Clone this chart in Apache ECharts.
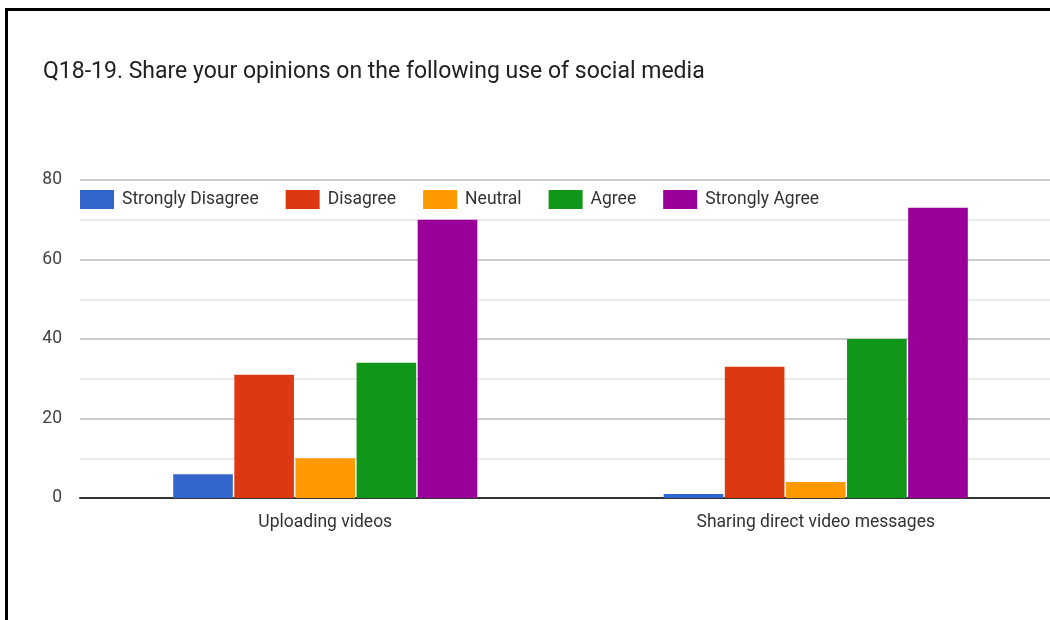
<!DOCTYPE html>
<html>
<head>
<meta charset="utf-8">
<script src="https://cdn.jsdelivr.net/npm/echarts@6/dist/echarts.min.js"></script>
<style>
  html, body { margin: 0; padding: 0; background: #fff; overflow: hidden; width: 1050px; height: 620px; }
  #frame { position: absolute; left: 5px; top: 8px; width: 1100px; height: 700px; border: 3px solid #000; box-sizing: border-box; }
  #chart { position: absolute; left: 0; top: 0; width: 1080px; height: 620px; }
</style>
</head>
<body>
<div id="frame"></div>
<div id="chart"></div>
<script>
const titleText = 'Q18-19. Share your opinions on the following use of social media';
const categories = ['Uploading videos', 'Sharing direct video messages'];
const seriesNames = ['Strongly Disagree', 'Disagree', 'Neutral', 'Agree', 'Strongly Agree'];
const stronglyDisagree = [6, 1];
const disagree = [31, 33];
const neutral = [10, 4];
const agree = [34, 40];
const stronglyAgree = [70, 73];
const seriesValues = [stronglyDisagree, disagree, neutral, agree, stronglyAgree];
const colors = ['#3366cc', '#dc3912', '#ff9900', '#109618', '#990099'];
const yTicks = [0, 20, 40, 60, 80];

const chart = echarts.init(document.getElementById('chart'), null, { renderer: 'canvas' });
const FONT = 'Roboto';
chart.setOption({
  animation: false,
  color: colors,
  title: {
    text: titleText,
    left: 38,
    top: 56,
    textStyle: { fontFamily: FONT, fontSize: 23, fontWeight: 'normal', color: '#212121' }
  },
  legend: {
    left: 80,
    top: 190,
    padding: 0,
    itemWidth: 34,
    itemHeight: 19,
    itemGap: 27,
    icon: 'rect',
    textStyle: { fontFamily: FONT, fontSize: 17.5, color: '#333', padding: [0, 3, 0, 3] },
    data: seriesNames
  },
  grid: { left: 80, right: 19, top: 180, bottom: 122, containLabel: false },
  xAxis: {
    type: 'category',
    data: categories,
    axisTick: { show: false },
    axisLine: { lineStyle: { color: '#333', width: 2 } },
    axisLabel: { fontFamily: FONT, fontSize: 17.5, color: '#333', margin: 16 }
  },
  yAxis: {
    type: 'value',
    min: 0,
    max: 80,
    interval: 10,
    axisLine: { show: false },
    axisTick: { show: false },
    axisLabel: {
      fontFamily: FONT, fontSize: 17.5, color: '#444', margin: 18, padding: [4, 0, 0, 0],
      formatter: v => (yTicks.indexOf(v) >= 0 ? String(v) : '')
    },
    splitLine: { lineStyle: { color: ['#cccccc', '#ebebeb'], width: 2 } }
  },
  series: seriesNames.map((name, i) => ({
    name: name,
    type: 'bar',
    data: seriesValues[i],
    barGap: '2.5%',
    barCategoryGap: '38%',
    itemStyle: { color: colors[i] }
  }))
});
</script>
</body>
</html>
